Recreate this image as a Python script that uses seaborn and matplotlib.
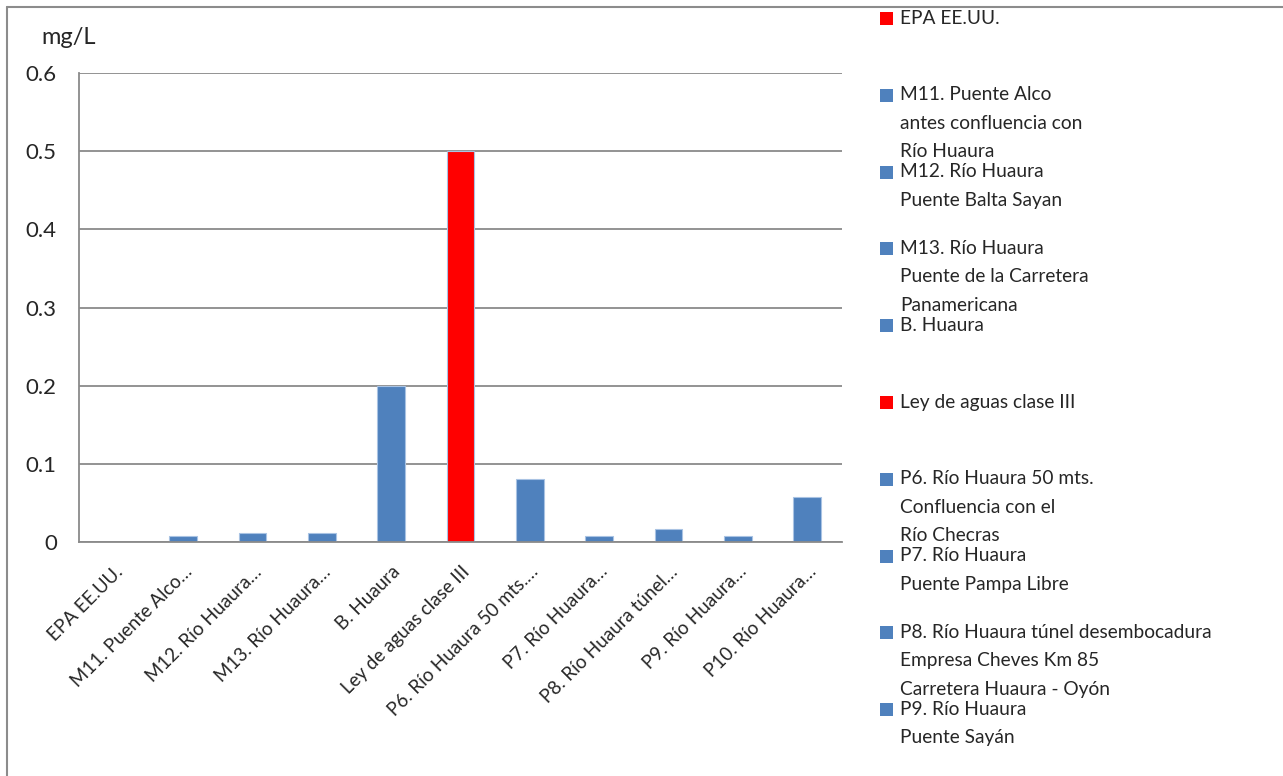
import matplotlib
matplotlib.use("Agg")
import matplotlib.pyplot as plt
import seaborn as sns
import pandas as pd
from matplotlib.lines import Line2D
from matplotlib.patches import Rectangle

# Sampling points and reference limits (mg/L)
tick_labels = [
    "EPA EE.UU.",
    "M11. Puente Alco…",
    "M12. Río Huaura…",
    "M13. Río Huaura…",
    "B. Huaura",
    "Ley de aguas clase III",
    "P6. Río Huaura 50 mts.…",
    "P7. Río Huaura…",
    "P8. Río Huaura túnel…",
    "P9. Río Huaura…",
    "P10. Río Huaura…",
]
values = [0.0, 0.008, 0.011, 0.011, 0.2, 0.5, 0.081, 0.008, 0.016, 0.008, 0.058]
is_limit = [True, False, False, False, False, True, False, False, False, False, False]

legend_labels = [
    "EPA EE.UU.",
    "M11. Puente Alco\nantes confluencia con\nRío Huaura",
    "M12. Río Huaura\nPuente Balta Sayan",
    "M13. Río Huaura\nPuente de la Carretera\nPanamericana",
    "B. Huaura",
    "Ley de aguas clase III",
    "P6. Río Huaura 50 mts.\nConfluencia con el\nRío Checras",
    "P7. Río Huaura\nPuente Pampa Libre",
    "P8. Río Huaura túnel desembocadura\nEmpresa Cheves Km 85\nCarretera Huaura - Oyón",
    "P9. Río Huaura\nPuente Sayán",
]

y_ticks = [0, 0.1, 0.2, 0.3, 0.4, 0.5, 0.6]
y_tick_text = ["0", "0.1", "0.2", "0.3", "0.4", "0.5", "0.6"]

BLUE = "#4F81BD"
RED = "#FF0000"
GRID = "#8a8a8a"
TEXT = "#262626"

sns.set_theme(style="white")
plt.rcParams["font.family"] = ["Lato", "DejaVu Sans"]

W, H = 1283, 776
fig = plt.figure(figsize=(W / 100, H / 100), dpi=100)
ax = fig.add_axes([79 / W, 1 - 542 / H, (842 - 79) / W, (542 - 73) / H])

df = pd.DataFrame({"punto": tick_labels, "valor": values,
                   "grupo": ["limite" if f else "muestra" for f in is_limit]})
sns.barplot(data=df, x="punto", y="valor", hue="grupo",
            palette={"limite": RED, "muestra": BLUE}, saturation=1,
            dodge=False, width=0.4, legend=False, ax=ax,
            edgecolor="#a9c3e3", linewidth=0.8)

ax.set_xlim(-0.5, len(tick_labels) - 0.5)
ax.set_ylim(0, 0.6)
ax.set_yticks(y_ticks)
ax.set_yticklabels(y_tick_text, fontsize=16, color=TEXT)
ax.yaxis.grid(True, color=GRID, linewidth=1.3)
ax.set_axisbelow(True)
ax.set_xlabel("")
ax.set_ylabel("")

# category labels at bar centres, tick marks at category boundaries
ax.set_xticks(range(len(tick_labels)))
ax.set_xticklabels(tick_labels, rotation=45, ha="right", rotation_mode="anchor",
                   fontsize=13.5, color=TEXT)
ax.set_xticks([i - 0.5 for i in range(len(tick_labels) + 1)], minor=True)
ax.tick_params(axis="x", which="major", length=0, pad=15)
ax.tick_params(axis="x", which="minor", length=6, width=1.3, color=GRID, direction="out")
ax.tick_params(axis="y", which="major", length=6, width=1.3, color=GRID, direction="out", pad=10)

for side in ["top", "right"]:
    ax.spines[side].set_visible(False)
for side in ["left", "bottom"]:
    ax.spines[side].set_color(GRID)
    ax.spines[side].set_linewidth(1.3)

fig.text(41 / W, 1 - 38 / H, "mg/L", fontsize=17, color=TEXT, va="center", ha="left")

# Side key: one slot per sampling point
colors = [RED if f else BLUE for f in is_limit]
slot0, slot_step, line_step = 18, 76.8, 28.5
for i, (lab, col) in enumerate(zip(legend_labels, colors)):
    y0 = slot0 + i * slot_step
    fig.add_artist(Rectangle((880 / W, 1 - (y0 + 7) / H), 13 / W, 13 / H,
                             transform=fig.transFigure, facecolor=col, edgecolor="none"))
    for j, line in enumerate(lab.split("\n")):
        fig.text(900 / W, 1 - (y0 + j * line_step) / H, line, fontsize=13.8,
                 color=TEXT, va="center", ha="left")

# outer frame
fig.add_artist(Line2D([7 / W, 1], [1 - 7 / H, 1 - 7 / H], transform=fig.transFigure,
                      color="#8c8c8c", linewidth=1.5))
fig.add_artist(Line2D([7 / W, 7 / W], [0, 1 - 7 / H], transform=fig.transFigure,
                      color="#8c8c8c", linewidth=1.5))

fig.savefig("out.png", dpi=100)
